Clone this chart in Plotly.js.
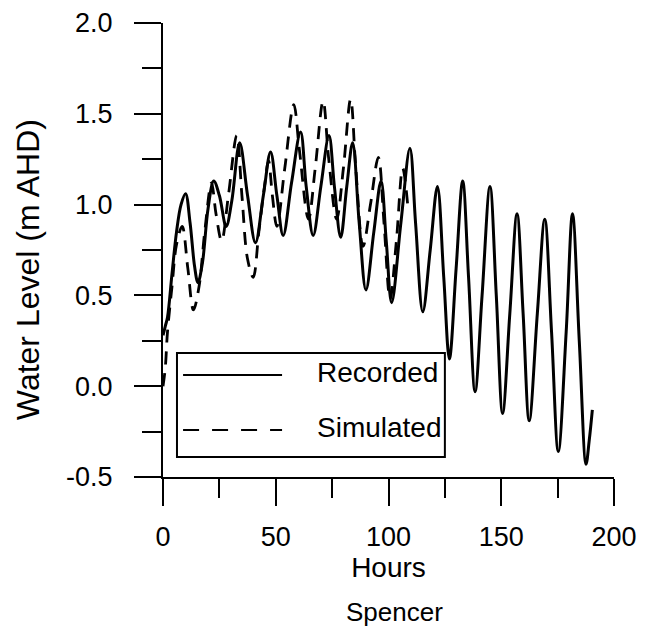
<!DOCTYPE html>
<html>
<head>
<meta charset="utf-8">
<script src="https://cdn.plot.ly/plotly-3.0.1.min.js"></script>
<style>html,body{margin:0;padding:0;background:#fff;}#chart{width:646px;height:636px;}</style>
</head>
<body>
<div id="chart"></div>
<script>
// Recorded water level (m AHD) vs hours
const recordedHours = [0,1,2,4,6,8,10,12,14,15.5,17.5,20,22.5,25,28,30.5,34,37.5,41,44.5,47.7,50.5,53.3,57,61,63.5,66.6,70,73.6,76,78.8,81.5,84.1,87,90,93.5,96.7,99,101.4,105.5,109.5,112,115.2,118.5,121.7,124.5,127,130,132.9,135.5,138.4,141.5,145,147.8,150.6,153.8,157,159.7,162.4,166,169.3,172.3,175.3,178.8,181.6,184.6,187.6,189,190.4];
const recordedLevel = [0.28,0.33,0.38,0.62,0.85,1.0,1.06,0.9,0.66,0.57,0.68,0.98,1.13,1.05,0.88,1.02,1.34,1.05,0.79,1.05,1.29,1.05,0.83,1.12,1.40,1.1,0.83,1.1,1.38,1.1,0.82,1.1,1.34,0.9,0.53,0.85,1.13,0.8,0.46,0.9,1.31,0.9,0.41,0.75,1.10,0.6,0.15,0.65,1.13,0.6,-0.03,0.5,1.1,0.5,-0.15,0.4,0.95,0.4,-0.19,0.4,0.92,0.3,-0.36,0.3,0.95,0.25,-0.43,-0.3,-0.13];
// Simulated water level
const simulatedHours = [0,1,2,4,6,8.5,11,13.5,16,18.5,21.5,23.5,26,29,32.7,35,37.5,40,42.5,45,46.8,48.5,50.5,54,58,60.5,64.5,67.5,71,73.5,77,80,83.2,85.5,88.7,92,95.5,98,100.7,103.5,106.3,108.5];
const simulatedLevel = [0.0,0.1,0.3,0.55,0.78,0.88,0.65,0.42,0.55,0.85,1.12,0.95,0.8,1.05,1.38,1.05,0.7,0.6,0.85,1.1,1.24,1.05,0.88,1.2,1.55,1.3,0.92,1.2,1.57,1.25,0.92,1.2,1.58,1.2,0.77,1.0,1.26,0.9,0.48,0.8,1.2,1.0];

const seriesNames = ["Recorded","Simulated"];
const xTitle = "Hours";
const yTitle = "Water Level (m AHD)";
const subTitle = "Spencer";

const FONT = '"Liberation Sans", Arial, sans-serif';

const traces = [
  {x: recordedHours, y: recordedLevel, mode: 'lines', name: seriesNames[0],
   line: {color: '#000', width: 3, shape: 'spline', smoothing: 1}, showlegend: false},
  {x: simulatedHours, y: simulatedLevel, mode: 'lines', name: seriesNames[1],
   line: {color: '#000', width: 2.8, dash: '13px,9px', shape: 'spline', smoothing: 1}, showlegend: false}
];

const layout = {
  width: 646, height: 636,
  margin: {l: 163, r: 32, t: 23, b: 159},
  paper_bgcolor: '#fff', plot_bgcolor: '#fff',
  font: {family: FONT, size: 27, color: '#000'},
  showlegend: false,
  xaxis: {
    range: [0, 200], tickvals: [0,50,100,150,200], ticktext: ['0','50','100','150','200'],
    showline: true, linecolor: '#000', linewidth: 2,
    ticks: 'outside', ticklen: 27, tickwidth: 2, tickcolor: '#000',
    minor: {tickvals: [25,75,125,175], ticklen: 19, tickwidth: 2, tickcolor: '#000', ticks: 'outside'},
    showgrid: false, zeroline: false,
    tickfont: {family: FONT, size: 27},
    ticklabelstandoff: 8,
    title: {text: xTitle, font: {family: FONT, size: 28}, standoff: 2}
  },
  yaxis: {
    range: [-0.5, 2.0], tickvals: [-0.5,0,0.5,1,1.5,2], ticktext: ['-0.5','0.0','0.5','1.0','1.5','2.0'],
    showline: true, linecolor: '#000', linewidth: 2,
    ticks: 'outside', ticklen: 27, tickwidth: 2, tickcolor: '#000',
    minor: {tickvals: [-0.25,0.25,0.75,1.25,1.75], ticklen: 19, tickwidth: 2, tickcolor: '#000', ticks: 'outside'},
    showgrid: false, zeroline: false,
    tickfont: {family: FONT, size: 27},
    ticklabelstandoff: 16
  },
  shapes: [
    {type: 'rect', xref: 'x', yref: 'y', x0: 6.2, x1: 125, y0: -0.39, y1: 0.183,
     line: {color: '#000', width: 2}, fillcolor: 'rgba(255,255,255,0)'},
    {type: 'line', xref: 'x', yref: 'y', x0: 8.9, x1: 52.8, y0: 0.062, y1: 0.062,
     line: {color: '#000', width: 2}},
    {type: 'line', xref: 'x', yref: 'y', x0: 8.9, x1: 52.8, y0: -0.241, y1: -0.241,
     line: {color: '#000', width: 2, dash: '16px,13px'}}
  ],
  annotations: [
    {xref: 'x', yref: 'y', x: 67.4, y: 0.078, xanchor: 'left', yanchor: 'middle', showarrow: false,
     text: seriesNames[0], font: {family: FONT, size: 28}},
    {xref: 'x', yref: 'y', x: 67.4, y: -0.23, xanchor: 'left', yanchor: 'middle', showarrow: false,
     text: seriesNames[1], font: {family: FONT, size: 28}},
    {xref: 'paper', yref: 'paper', x: -0.299, y: 0.456, xanchor: 'center', yanchor: 'middle', showarrow: false,
     textangle: -90, text: yTitle, font: {family: FONT, size: 32}},
    {xref: 'paper', yref: 'paper', x: 0.514, y: -0.297, xanchor: 'center', yanchor: 'middle', showarrow: false,
     text: subTitle, font: {family: FONT, size: 26}}
  ]
};

Plotly.newPlot('chart', traces, layout, {staticPlot: true, displayModeBar: false});
</script>
</body>
</html>
